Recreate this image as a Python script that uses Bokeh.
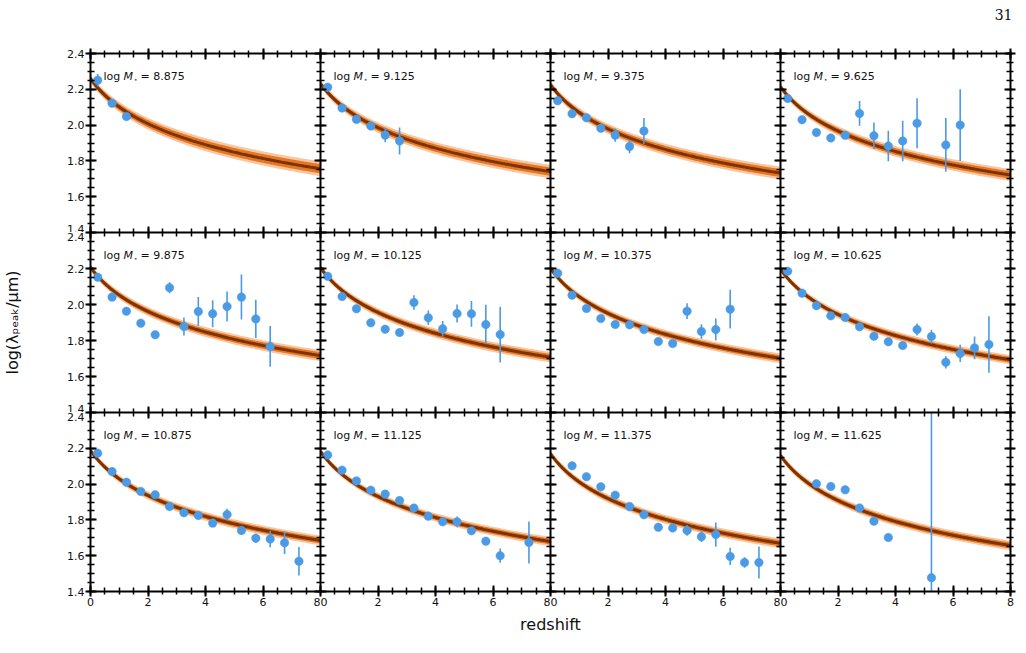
import numpy as np
from bokeh.plotting import figure
from bokeh.layouts import gridplot, column
from bokeh.models import FixedTicker, Range1d, LinearAxis
from bokeh.core.properties import value
from bokeh.embed import file_html
from bokeh.resources import INLINE

# ---------------------------------------------------------------- data
mass_bins = ["8.875", "9.125", "9.375", "9.625",
             "9.875", "10.125", "10.375", "10.625",
             "10.875", "11.125", "11.375", "11.625"]

# model curve log(lambda_peak) at z = 0 and z = 8, and band half-width at z = 0 / z = 8
curve_z0 = [2.260, 2.232, 2.226, 2.214, 2.207, 2.205, 2.201, 2.197, 2.188, 2.183, 2.170, 2.160]
curve_z8 = [1.756, 1.740, 1.732, 1.721, 1.716, 1.707, 1.701, 1.693, 1.685, 1.679, 1.669, 1.657]
band_hw0 = [0.022, 0.020, 0.020, 0.018, 0.018, 0.017, 0.017, 0.016, 0.017, 0.016, 0.018, 0.018]
band_hw8 = [0.042, 0.038, 0.036, 0.034, 0.031, 0.029, 0.027, 0.026, 0.027, 0.026, 0.027, 0.027]

z_points = [
    [0.25, 0.75, 1.25],
    [0.25, 0.75, 1.25, 1.75, 2.25, 2.75],
    [0.25, 0.75, 1.25, 1.75, 2.25, 2.75, 3.25],
    [0.25, 0.75, 1.25, 1.75, 2.25, 2.75, 3.25, 3.75, 4.25, 4.75, 5.75, 6.25],
    [0.25, 0.75, 1.25, 1.75, 2.25, 2.75, 3.25, 3.75, 4.25, 4.75, 5.25, 5.75, 6.25],
    [0.25, 0.75, 1.25, 1.75, 2.25, 2.75, 3.25, 3.75, 4.25, 4.75, 5.25, 5.75, 6.25],
    [0.25, 0.75, 1.25, 1.75, 2.25, 2.75, 3.25, 3.75, 4.25, 4.75, 5.25, 5.75, 6.25],
    [0.25, 0.75, 1.25, 1.75, 2.25, 2.75, 3.25, 3.75, 4.25, 4.75, 5.25, 5.75, 6.25, 6.75, 7.25],
    [0.25, 0.75, 1.25, 1.75, 2.25, 2.75, 3.25, 3.75, 4.25, 4.75, 5.25, 5.75, 6.25, 6.75, 7.25],
    [0.25, 0.75, 1.25, 1.75, 2.25, 2.75, 3.25, 3.75, 4.25, 4.75, 5.25, 5.75, 6.25, 7.25],
    [0.75, 1.25, 1.75, 2.25, 2.75, 3.25, 3.75, 4.25, 4.75, 5.25, 5.75, 6.25, 6.75, 7.25],
    [1.25, 1.75, 2.25, 2.75, 3.25, 3.75, 5.25],
]
lam_points = [
    [2.250, 2.122, 2.048],
    [2.212, 2.095, 2.032, 1.995, 1.944, 1.911],
    [2.136, 2.064, 2.041, 1.982, 1.944, 1.880, 1.967],
    [2.149, 2.030, 1.959, 1.928, 1.943, 2.065, 1.941, 1.883, 1.911, 2.010, 1.889, 2.000],
    [2.152, 2.041, 1.963, 1.896, 1.832, 2.093, 1.878, 1.961, 1.949, 1.989, 2.041, 1.920, 1.767],
    [2.157, 2.044, 1.976, 1.898, 1.863, 1.844, 2.011, 1.926, 1.865, 1.950, 1.948, 1.889, 1.833],
    [2.174, 2.052, 1.978, 1.922, 1.889, 1.887, 1.861, 1.794, 1.783, 1.963, 1.850, 1.861, 1.974],
    [2.185, 2.063, 1.993, 1.937, 1.928, 1.876, 1.824, 1.793, 1.772, 1.861, 1.822, 1.679, 1.728,
     1.759, 1.778],
    [2.173, 2.070, 2.011, 1.959, 1.940, 1.875, 1.840, 1.825, 1.782, 1.830, 1.741, 1.698, 1.693,
     1.672, 1.569],
    [2.163, 2.078, 2.018, 1.966, 1.944, 1.908, 1.866, 1.821, 1.789, 1.789, 1.739, 1.681, 1.600,
     1.674],
    [2.102, 2.041, 1.985, 1.938, 1.875, 1.829, 1.759, 1.755, 1.741, 1.706, 1.718, 1.596, 1.562,
     1.562],
    [2.002, 1.987, 1.968, 1.867, 1.793, 1.702, 1.477],
]
lam_err = [
    [0.035, 0.012, 0.015],
    [0.010, 0.010, 0.010, 0.018, 0.040, 0.075],
    [0.010, 0.010, 0.010, 0.012, 0.037, 0.037, 0.072],
    [0.010, 0.010, 0.010, 0.010, 0.015, 0.069, 0.074, 0.085, 0.113, 0.140, 0.150, 0.200],
    [0.012, 0.010, 0.010, 0.010, 0.010, 0.030, 0.050, 0.080, 0.075, 0.083, 0.125, 0.106, 0.113],
    [0.010, 0.010, 0.010, 0.010, 0.010, 0.010, 0.040, 0.040, 0.044, 0.050, 0.072, 0.110, 0.155],
    [0.010, 0.010, 0.010, 0.010, 0.010, 0.020, 0.010, 0.010, 0.015, 0.044, 0.040, 0.061, 0.108],
    [0.010, 0.010, 0.010, 0.010, 0.010, 0.010, 0.010, 0.010, 0.010, 0.033, 0.038, 0.034, 0.048,
     0.063, 0.157],
    [0.010, 0.010, 0.010, 0.010, 0.010, 0.010, 0.010, 0.010, 0.015, 0.032, 0.025, 0.025, 0.046,
     0.062, 0.079],
    [0.010, 0.010, 0.010, 0.010, 0.010, 0.010, 0.010, 0.010, 0.010, 0.030, 0.010, 0.020, 0.040,
     0.117],
    [0.010, 0.010, 0.010, 0.010, 0.015, 0.015, 0.010, 0.010, 0.030, 0.030, 0.068, 0.048, 0.030,
     0.090],
    [0.010, 0.020, 0.010, 0.010, 0.020, 0.010, 1.000],
]

x_ticks = [0, 2, 4, 6, 8]
x_tick_labels = ["0", "2", "4", "6", "8"]
x_minor = [0.5 * k for k in range(17)]
y_ticks = [1.4, 1.6, 1.8, 2.0, 2.2, 2.4]
y_tick_labels = ["1.4", "1.6", "1.8", "2.0", "2.2", "2.4"]
y_minor = [round(1.4 + 0.05 * k, 2) for k in range(21)]

# ---------------------------------------------------------------- style
FONT = "DejaVu Sans"
BLUE = "#4a9ae6"
DARK = "#7c3300"
ORANGE = "#e4721c"
PALE = "#f3a262"
FRAME_W = 230
FRAME_H = [179, 180, 179]


def make_axis(kind, labelled, outer):
    if kind == "x":
        ticker = FixedTicker(ticks=x_ticks, minor_ticks=x_minor)
        overrides = dict(zip(x_ticks, x_tick_labels))
    else:
        ticker = FixedTicker(ticks=y_ticks, minor_ticks=y_minor)
        overrides = dict(zip(y_ticks, y_tick_labels))
    ax = LinearAxis(
        ticker=ticker,
        axis_line_color="black", axis_line_width=2,
        major_tick_line_color="black", major_tick_line_width=2,
        minor_tick_line_color="black", minor_tick_line_width=1.5,
        major_tick_in=6, major_tick_out=5 if outer else 0,
        minor_tick_in=4, minor_tick_out=3 if outer else 0,
        major_label_standoff=1 if labelled else 0,
        major_label_text_font=FONT,
        major_label_text_font_size="11px",
        major_label_text_color="#111111" if labelled else None,
    )
    if labelled:
        ax.major_label_overrides = overrides
    return ax


panels = []
zz = np.linspace(0, 8, 241)
tt = np.log10(1 + zz) / np.log10(9)

for i in range(12):
    r, c = divmod(i, 4)
    p = figure(
        frame_width=FRAME_W, frame_height=FRAME_H[r],
        x_range=Range1d(0, 8), y_range=Range1d(1.4, 2.4),
        x_axis_location=None, y_axis_location=None,
        output_backend="svg", toolbar_location=None,
        min_border_left=90 if c == 0 else 0,
        min_border_right=16 if c == 3 else 0,
        min_border_top=25 if r == 0 else 0,
        min_border_bottom=24 if r == 2 else 0,
        background_fill_color="white", border_fill_color="white",
        outline_line_color=None,
    )
    p.grid.visible = False

    left = make_axis("y", labelled=(c == 0), outer=(c == 0))
    right = make_axis("y", labelled=False, outer=(c == 3))
    below = make_axis("x", labelled=(r == 2), outer=(r == 2))
    above = make_axis("x", labelled=False, outer=(r == 0))
    if c == 0 and r == 1:
        left.axis_label = "log(λₚₑₐₖ/μm)"
        left.axis_label_text_font = FONT
        left.axis_label_text_font_size = "16px"
        left.axis_label_text_font_style = "normal"
        left.axis_label_text_color = "#111111"
        left.axis_label_standoff = 42
    p.add_layout(left, "left")
    p.add_layout(right, "right")
    p.add_layout(below, "below")
    p.add_layout(above, "above")

    # model curve with its uncertainty band
    centre = curve_z0[i] - (curve_z0[i] - curve_z8[i]) * tt
    hw = band_hw0[i] + (band_hw8[i] - band_hw0[i]) * tt
    p.varea(x=zz, y1=centre - hw, y2=centre + hw, fill_color=PALE, fill_alpha=0.6)
    p.varea(x=zz, y1=centre - 0.62 * hw, y2=centre + 0.62 * hw, fill_color=ORANGE, fill_alpha=0.95)
    p.line(x=zz, y=centre, line_color=DARK, line_width=3)

    # binned measurements
    zp = np.array(z_points[i])
    yp = np.array(lam_points[i])
    ep = np.array(lam_err[i])
    p.segment(x0=zp, y0=yp - ep, x1=zp, y1=yp + ep, line_color=BLUE, line_width=1.6)
    p.scatter(x=zp, y=yp, size=8.5, fill_color=BLUE, line_color=BLUE, line_width=0.5)

    # panel label: log M_* = ...
    common = dict(text_font=value(FONT), text_color="#111111", text_baseline="alphabetic",
                  text_align="left")
    p.text(x=[0], y=[2.4], text=["log"], x_offset=13, y_offset=23,
           text_font_size="11px", **common)
    p.text(x=[0], y=[2.4], text=["M"], x_offset=33, y_offset=23,
           text_font_size="11px", text_font_style="italic", **common)
    p.text(x=[0], y=[2.4], text=["⋆"], x_offset=43, y_offset=26,
           text_font_size="7px", **common)
    p.text(x=[0], y=[2.4], text=["= " + mass_bins[i]], x_offset=50, y_offset=23,
           text_font_size="11px", **common)
    panels.append(p)

grid = gridplot(panels, ncols=4, toolbar_location=None)

# page header with the page number
top = figure(width=1026, height=28, x_range=Range1d(0, 1026), y_range=Range1d(0, 28),
             output_backend="svg", toolbar_location=None, min_border=0,
             x_axis_location=None, y_axis_location=None, outline_line_color=None,
             background_fill_color="white", border_fill_color="white")
top.grid.visible = False
top.text(x=[1012], y=[14], text=["31"], text_font=value("DejaVu Serif"),
         text_font_size="14px", text_align="right", text_baseline="middle",
         text_color="#111111")

# shared x-axis title
bottom = figure(width=1026, height=38, x_range=Range1d(0, 1026), y_range=Range1d(0, 38),
                output_backend="svg", toolbar_location=None, min_border=0,
                x_axis_location=None, y_axis_location=None, outline_line_color=None,
                background_fill_color="white", border_fill_color="white")
bottom.grid.visible = False
bottom.text(x=[550], y=[29], text=["redshift"], text_font=value(FONT),
            text_font_size="16px", text_align="center", text_baseline="middle",
            text_color="#111111")

layout = column(top, grid, bottom)
open("out.html", "w").write(file_html(layout, INLINE))
